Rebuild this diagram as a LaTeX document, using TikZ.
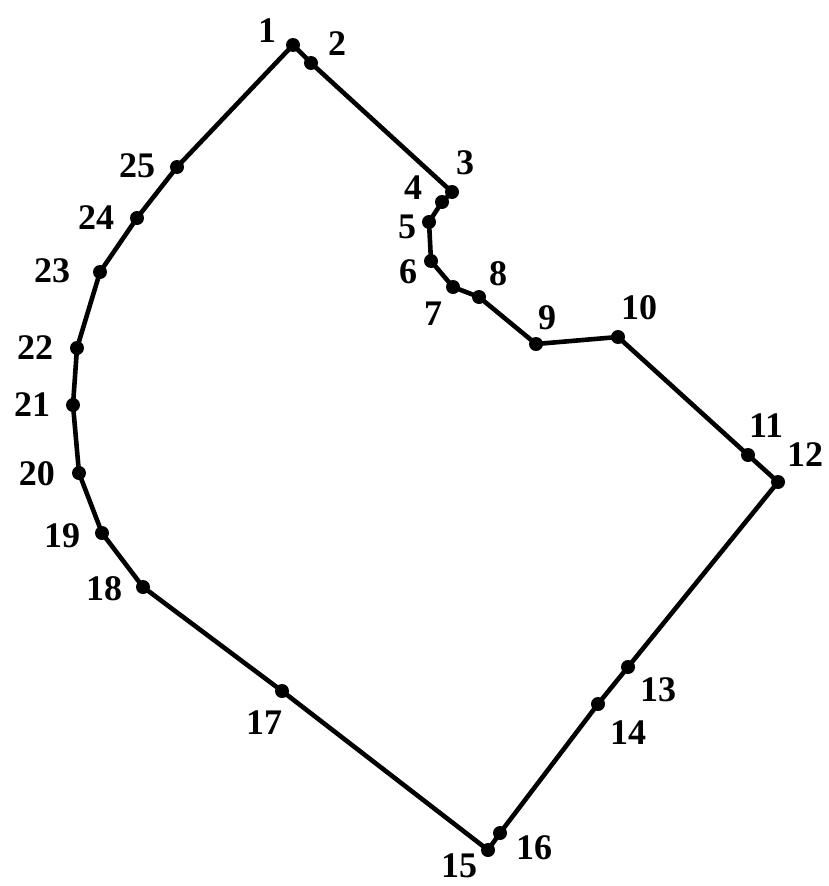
\documentclass[tikz,border=0pt]{standalone}
\usepackage{fontspec}
\setmainfont{Liberation Serif}
\begin{document}
\begin{tikzpicture}[x=1pt,y=-1pt,
  pt/.style={circle,fill=black,inner sep=0pt,minimum size=14pt},
  lbl/.style={font=\fontsize{36}{36}\selectfont\bfseries,inner sep=0pt},
  edge/.style={line width=4.6pt,line join=round}]
\useasboundingbox (0,0) rectangle (829,886);
\foreach \n/\x/\y in {1/293/45,2/311/63,3/452/192,4/442/202,5/429/222,6/431/261,7/453/287,8/479/297,9/536/344,10/618/337,11/748/455,12/778/482,13/628/667,14/598/704,15/488/850,16/500/833,17/282/691,18/143/587,19/102/533,20/79/473,21/73/405,22/77/348,23/100/272,24/137/218,25/177/167}
  \node[pt] (p\n) at (\x,\y) {};
\draw[edge] (p1.center) -- (p2.center) -- (p3.center) -- (p4.center) -- (p5.center) -- (p6.center) -- (p7.center) -- (p8.center) -- (p9.center) -- (p10.center) -- (p11.center) -- (p12.center) -- (p13.center) -- (p14.center) -- (p16.center) -- (p15.center) -- (p17.center) -- (p18.center) -- (p19.center) -- (p20.center) -- (p21.center) -- (p22.center) -- (p23.center) -- (p24.center) -- (p25.center) -- cycle;
\foreach \n/\x/\y in {1/267/31,2/337/44,3/465/163,4/413/188,5/407/227,6/408/272,7/433/314,8/498/274,9/547/318,10/639/308,11/766/426,12/805/455,13/658/690,14/628/733,15/459/866,16/534/848,17/264/723,18/104/589,19/62/536,20/37/474,21/32/405,22/35/348,23/52/271,24/96/218,25/137/166}
  \node[lbl] (l\n) at (\x,\y) {\n};
\end{tikzpicture}
\end{document}
